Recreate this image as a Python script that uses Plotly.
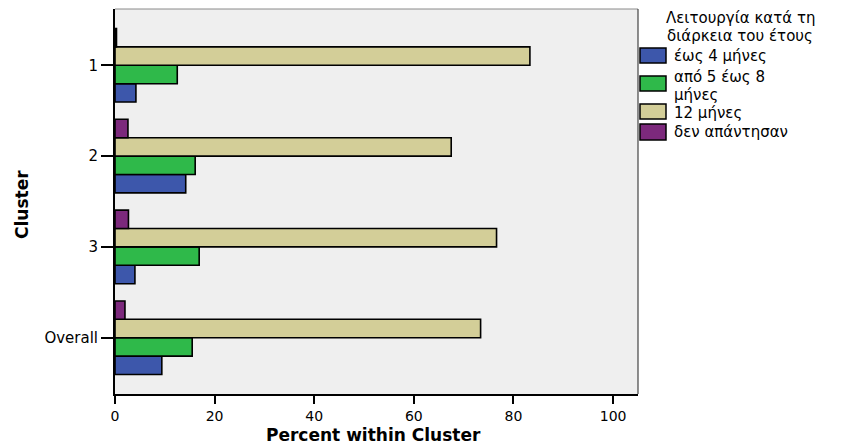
import plotly.graph_objects as go

# Percent within cluster for each operating-period answer
clusters = ["1", "2", "3", "Overall"]
series_names = ["έως 4 μήνες", "από 5 έως 8 μήνες", "12 μήνες", "δεν απάντησαν"]
up_to_4 = [4.2, 14.2, 4.0, 9.4]
from_5_to_8 = [12.5, 16.1, 16.9, 15.5]
twelve_months = [83.3, 67.5, 76.6, 73.4]
no_answer = [0.3, 2.6, 2.7, 2.0]
colors = ["#3d57ab", "#2fb94a", "#d3ce98", "#7c297c"]
x_ticks = [0, 20, 40, 60, 80, 100]
legend_title = ["Λειτουργία κατά τη", "διάρκεια του έτους"]
# legend labels as they wrap inside the legend box
legend_lines = [["έως 4 μήνες"], ["από 5 έως 8", "μήνες"], ["12 μήνες"], ["δεν απάντησαν"]]

series = [up_to_4, from_5_to_8, twelve_months, no_answer]

W, H = 841, 446
ML, MR, MT, MB = 115, 203, 9, 52
PW, PH = W - ML - MR, H - MT - MB

FONT = "DejaVu Sans"


def px(x):
    return (x - ML) / PW


def py(y):
    return (H - MB - y) / PH


fig = go.Figure()
for name, vals, col in zip(series_names, series, colors):
    fig.add_trace(go.Bar(
        y=clusters, x=vals, orientation="h", name=name,
        marker=dict(color=col, line=dict(color="black", width=1.6)),
        showlegend=False,
    ))

shapes = [
    # light frame on the top and right of the plot area
    dict(type="line", xref="paper", yref="paper", x0=0, x1=1, y0=1, y1=1,
         line=dict(color="#8a8a8a", width=1)),
    dict(type="line", xref="paper", yref="paper", x0=1, x1=1, y0=0, y1=1,
         line=dict(color="#444444", width=1.2)),
]


def note(text, x, y, size, xanchor="left", bold=False, angle=0):
    return dict(text=f"<b>{text}</b>" if bold else text, x=px(x), y=py(y),
                xref="paper", yref="paper", xanchor=xanchor, yanchor="middle",
                showarrow=False, textangle=angle, borderpad=0,
                font=dict(family=FONT, size=size, color="black"))


annotations = [
    note(legend_title[0], 740, 18, 15, xanchor="center"),
    note(legend_title[1], 740, 36, 15, xanchor="center"),
    note("Percent within Cluster", 373, 435, 17, xanchor="center", bold=True),
    note("Cluster", 22, 205, 17, xanchor="center", bold=True, angle=-90),
]

# legend swatches and labels
swatch_rows = [(48, 63), (76, 91), (104, 119), (124, 140)]
label_rows = [[56], [77, 95], [113], [132]]
for (y0, y1), col, ys, lines in zip(swatch_rows, colors, label_rows, legend_lines):
    shapes.append(dict(type="rect", xref="paper", yref="paper",
                       x0=px(640), x1=px(666), y0=py(y1), y1=py(y0),
                       fillcolor=col, line=dict(color="black", width=1.5)))
    for yy, t in zip(ys, lines):
        annotations.append(note(t, 673, yy, 15))

fig.update_layout(
    width=W, height=H,
    margin=dict(l=ML, r=MR, t=MT, b=MB, pad=0, autoexpand=False),
    paper_bgcolor="white",
    plot_bgcolor="#efefef",
    barmode="group",
    bargap=0.19,
    bargroupgap=0,
    showlegend=False,
    shapes=shapes,
    annotations=annotations,
    font=dict(family=FONT, color="black"),
    xaxis=dict(
        range=[0, 105], tickvals=x_ticks, ticks="outside", ticklen=8, tickwidth=2,
        tickcolor="black", showline=True, linecolor="black", linewidth=2,
        showgrid=False, zeroline=False, automargin=False,
        tickfont=dict(family=FONT, size=14, color="black"),
    ),
    yaxis=dict(
        type="category", categoryorder="array",
        categoryarray=list(reversed(clusters)),
        range=[-0.62, 3.62], ticks="outside", ticklen=12, tickwidth=1.5,
        tickcolor="black", showline=True, linecolor="black", linewidth=2,
        showgrid=False, zeroline=False, automargin=False,
        tickfont=dict(family=FONT, size=15, color="black"),
    ),
)

fig.write_html("out.html")
